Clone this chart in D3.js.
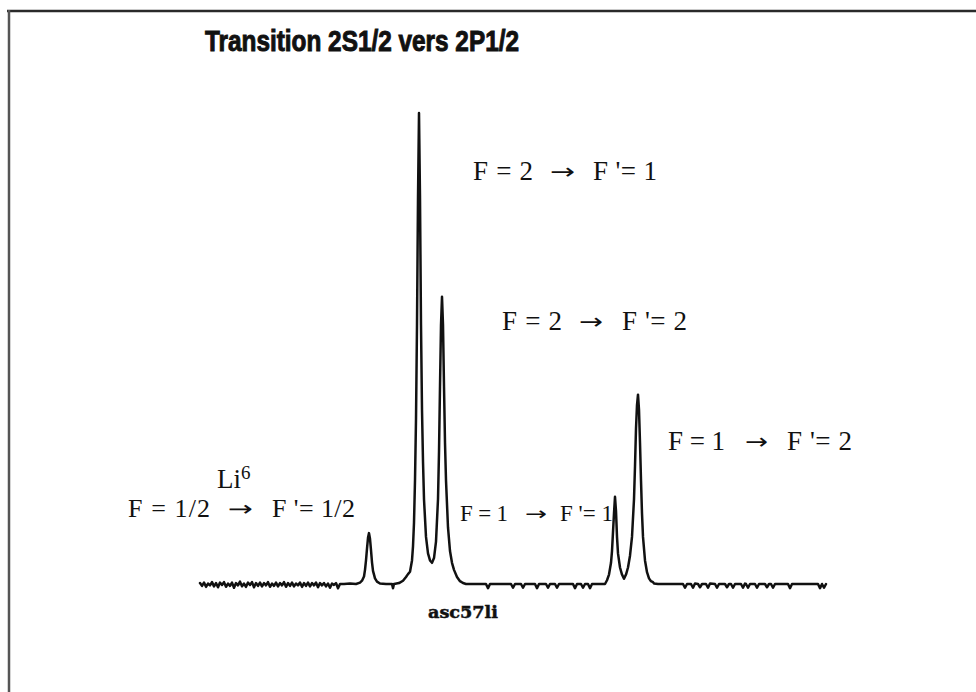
<!DOCTYPE html>
<html>
<head>
<meta charset="utf-8">
<script src="https://cdn.jsdelivr.net/npm/d3@7/dist/d3.min.js"></script>
<style>
  html, body { margin: 0; padding: 0; background: #fff; }
  svg { display: block; }
  text { white-space: pre; }
</style>
</head>
<body>
<svg id="chart" width="976" height="692"></svg>
<script>
// Recorded spectrum: scan channel and signal (arbitrary units, strongest line = 100)
const channel = [
  0,2,4,6,8,10,12,14,16,18,20,22,24,26,28,30,32,34,36,38,40,42,44,46,48,50,52,54,56,58,
  60,62,64,66,68,70,72,74,76,78,80,82,84,86,88,90,92,94,96,98,100,102,104,106,108,110,
  112,114,116,118,120,122,124,126,128,130,132,134,136,138,140,
  144,150,156,160,162,164,165,166,167,168,169,170,171,172,173,175,177,180,186,192,193,194,
  199,203,206,208,210,212,213,214,215,216,217,218,219,220,221,222,223,224,226,228,230,232,
  234,236,238,239,240,241,242,243,244,245,246,248,250,252,254,257,260,263,266,
  286,288,290,311,313,315,321,323,325,335,337,339,346,348,350,355,357,359,373,375,377,
  381,383,385,388,390,392,405,
  407,409,411,412,413,414,415,416,417,418,420,422,424,426,428,430,432,434,435,436,437,438,
  439,440,441,442,443,445,447,449,451,453,454,458,
  483,485,487,491,493,495,498,500,502,506,508,510,515,517,519,525,527,529,531,533,535,
  541,543,545,546,548,550,555,557,559,565,567,569,571,573,575,588,590,592,618,620,622,624,626
];
const signal = [
  0.2,-0.4,0.3,-0.6,0.1,-0.3,0.4,-0.5,0.2,-0.7,0.3,-0.2,0.4,-0.6,0.1,-0.4,0.3,-0.8,0.2,-0.3,
  0.5,-0.5,0.1,-0.6,0.3,-0.2,0.4,-0.7,0.2,-0.4,0.3,-0.5,0.2,-0.3,0.4,-0.6,0.1,-0.4,0.3,-0.5,
  0.2,-0.3,0.4,-0.6,0.2,-0.4,0.3,-0.5,0.1,-0.3,0.3,-0.6,0.2,-0.4,0.3,-0.5,0.2,-0.3,0.3,-0.7,
  0.2,-0.3,0.2,-0.5,0.1,-0.8,0.1,-0.2,0.2,-0.9,0,
  0,0.1,0,0.3,0.7,1.6,3,5,7.5,9.8,10.8,9.6,7.2,4.6,2.8,1.2,0.5,0.1,0,0,-0.9,0,
  0.2,0.7,1.5,2.1,2.6,5,8,13,22,35,55,82,100,82,55,37,26,18,10,6.5,5,4.5,
  5.5,9,18,28,42,55,61,55,42,30,22,12,7,4.5,3,1.5,0.6,0.2,0,
  0,-0.9,0,0,-0.8,0,0,-0.8,0,0,-0.9,0,0,-0.8,0,0,-0.8,0,0,-0.9,0,
  0,-0.8,0,0,-0.9,0,0,
  0.8,2,4.5,7,11,15,18.5,15.5,10,6.5,3.5,2,1.1,2,3.5,6,10,18,25,33,38,40.2,
  37,30,22,15,10,5,2.5,1.2,0.6,0.4,0.1,0,
  0,-0.8,0,0,-0.8,0.1,0,-0.7,0,0,-0.8,0.1,0,-0.8,0,0,-0.7,0,0,-0.8,0,
  0,-0.8,0.1,0,-0.8,0,0,-0.8,0,0,-0.7,0,0,-0.8,0,0,-0.9,0,0,-0.9,0,-0.8,0
];

// Text of the figure
const title = "Transition 2S1/2 vers 2P1/2";
const isotopeName = "Li";
const isotopeMass = "6";
const lowerLevels = ["F = 2", "F = 2", "F = 1", "F = 1", "F = 1/2"];
const upperLevels = ["F '= 1", "F '= 2", "F '= 2", "F '= 1", "F '= 1/2"];
const arrow = "\u2192";
const runName = "asc57li";

const svg = d3.select("#chart");

// Frame
svg.append("line").attr("x1", 7).attr("x2", 976).attr("y1", 11).attr("y2", 11)
  .attr("stroke", "#2a2a2a").attr("stroke-width", 2.5);
svg.append("line").attr("x1", 9).attr("x2", 9).attr("y1", 10).attr("y2", 692)
  .attr("stroke", "#555").attr("stroke-width", 2.5);

// Scales
const x = d3.scaleLinear().domain([0, 626]).range([200, 826]);
const y = d3.scaleLinear().domain([0, 100]).range([584, 113]);

const points = channel.map((c, i) => [c, signal[i]]);
const line = d3.line().x(d => x(d[0])).y(d => y(d[1]));

svg.append("path")
  .datum(points)
  .attr("d", line)
  .attr("fill", "none")
  .attr("stroke", "#111")
  .attr("stroke-width", 2.5)
  .attr("stroke-linejoin", "round")
  .attr("stroke-linecap", "round");

// Title
svg.append("text")
  .attr("x", 205).attr("y", 51)
  .attr("font-family", "'Liberation Sans', Arial, sans-serif")
  .attr("font-weight", "bold")
  .attr("font-size", 30)
  .attr("textLength", 314)
  .attr("lengthAdjust", "spacingAndGlyphs")
  .attr("fill", "#111")
  .attr("stroke", "#111")
  .attr("stroke-width", 1)
  .text(title);

// Transition labels: lower level, arrow, upper level
const serif = "'Liberation Serif', 'Times New Roman', serif";
const labelLayout = [
  { y: 180, size: 27, a: [473, 60], b: [550, 25], c: [593, 64] },
  { y: 330, size: 27, a: [502, 60], b: [579, 24], c: [622, 65] },
  { y: 450, size: 27, a: [668, 57], b: [745, 23], c: [787, 65] },
  { y: 521, size: 23, a: [460, 48], b: [525, 22], c: [560, 53] },
  { y: 517, size: 26, a: [128, 82], b: [228, 25], c: [272, 83] }
];
function part(str, pos, yy, size) {
  svg.append("text")
    .attr("x", pos[0]).attr("y", yy)
    .attr("font-family", serif)
    .attr("font-size", size)
    .attr("textLength", pos[1])
    .attr("lengthAdjust", "spacing")
    .attr("fill", "#111")
    .text(str);
}
function arrowGlyph(pos, yy, size) {
  // thin arrow, stretched horizontally to the wanted width
  const t = svg.append("text")
    .attr("x", 0).attr("y", 0)
    .attr("font-family", "'DejaVu Sans', sans-serif")
    .attr("font-size", size * 0.8)
    .attr("fill", "#111")
    .text(arrow);
  const w = t.node().getComputedTextLength() || 1;
  t.attr("transform", `translate(${pos[0]},${yy}) scale(${pos[1] / w},1)`);
}
lowerLevels.forEach((lo, i) => {
  const l = labelLayout[i];
  part(lo, l.a, l.y, l.size);
  arrowGlyph(l.b, l.y - 1, l.size);
  part(upperLevels[i], l.c, l.y, l.size);
});

// Isotope label
const iso = svg.append("text")
  .attr("x", 217).attr("y", 488)
  .attr("font-family", serif)
  .attr("font-size", 27)
  .attr("fill", "#111");
iso.append("tspan").text(isotopeName);
iso.append("tspan").attr("dy", -9).attr("font-size", 19).text(isotopeMass);

// Run identifier
svg.append("text")
  .attr("x", 428).attr("y", 618)
  .attr("font-family", "'DejaVu Serif', serif")
  .attr("font-weight", "bold")
  .attr("font-size", 17)
  .attr("textLength", 70)
  .attr("lengthAdjust", "spacingAndGlyphs")
  .attr("fill", "#111")
  .attr("stroke", "#111")
  .attr("stroke-width", 0.5)
  .text(runName);
</script>
</body>
</html>
